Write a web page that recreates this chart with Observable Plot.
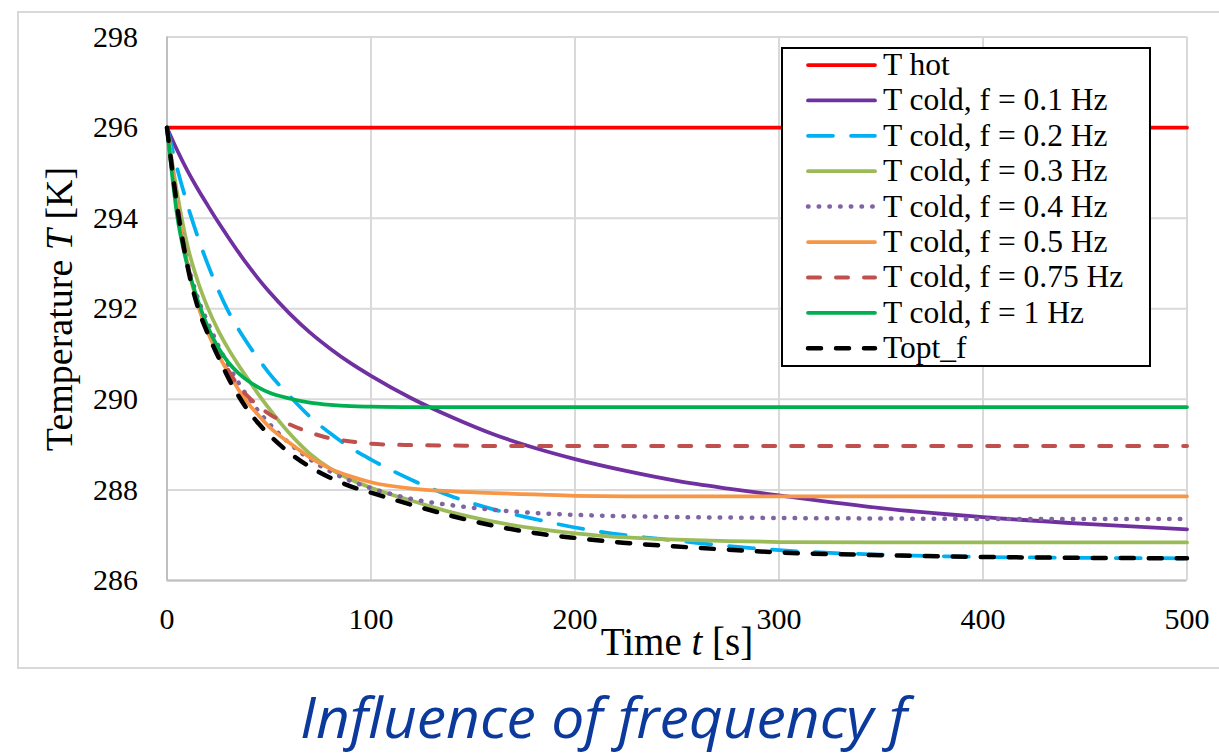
<!DOCTYPE html>
<html><head><meta charset="utf-8">
<script src="https://cdn.jsdelivr.net/npm/d3@7"></script>
<script src="https://cdn.jsdelivr.net/npm/@observablehq/plot@0.6"></script>
<style>
html,body{margin:0;padding:0;background:#fff;overflow:hidden}
#wrap{position:relative;width:1219px;height:755px;overflow:hidden;background:#fff}
#box{position:absolute;left:17px;top:11px;width:1300px;height:658px;border:2px solid #d9d9d9;box-sizing:border-box}
#chart{position:absolute;left:0;top:0}
#legend{position:absolute;left:781px;top:47px}
#caption{position:absolute;left:0;top:660px}
</style></head><body>
<div id="wrap"><div id="box"></div><div id="chart"></div><svg id="legend" width="372" height="322"></svg><svg id="caption" width="1219" height="95"></svg></div>
<script>
// ---- data ----
const times = [0,5,10,15,20,25,30,35,40,45,50,60,70,80,90,100,120,140,160,180,200,225,250,275,300,350,400,450,500];
const tHot    = [296,296,296,296,296,296,296,296,296,296,296,296,296,296,296,296,296,296,296,296,296,296,296,296,296,296,296,296,296];
const tCold01 = [296,295.5,295.05,294.65,294.28,293.92,293.58,293.25,292.94,292.65,292.38,291.9,291.48,291.12,290.8,290.52,290.02,289.6,289.23,288.93,288.68,288.42,288.2,288.03,287.88,287.6,287.4,287.25,287.13];
const tCold02 = [296,295.1,294.3,293.6,292.98,292.43,291.95,291.55,291.2,290.88,290.58,290.08,289.62,289.25,288.93,288.67,288.22,287.85,287.57,287.36,287.17,287.0,286.88,286.76,286.67,286.57,286.52,286.5,286.49];
const tCold03 = [296,294.55,293.4,292.62,292.02,291.53,291.12,290.76,290.43,290.1,289.8,289.25,288.8,288.47,288.23,288.05,287.76,287.5,287.3,287.15,287.04,286.95,286.9,286.87,286.85,286.84,286.84,286.84,286.84];
const tCold04 = [296,294.3,293.05,292.25,291.7,291.2,290.76,290.37,290.03,289.73,289.47,289.03,288.68,288.41,288.2,288.04,287.8,287.66,287.56,287.49,287.45,287.42,287.4,287.39,287.38,287.37,287.36,287.36,287.36];
const tCold05 = [296,294.3,293.0,292.1,291.48,291.0,290.6,290.22,289.9,289.64,289.4,289.04,288.72,288.47,288.3,288.17,288.03,287.97,287.93,287.9,287.87,287.86,287.86,287.86,287.86,287.86,287.86,287.86,287.86];
const tCold075= [296,294.3,293.0,292.15,291.5,291.05,290.65,290.3,290.05,289.85,289.68,289.45,289.27,289.14,289.07,289.02,288.99,288.98,288.97,288.97,288.97,288.97,288.97,288.97,288.97,288.97,288.97,288.97,288.97];
const tCold1  = [296,294.05,292.95,292.2,291.6,291.15,290.82,290.58,290.4,290.26,290.15,290.02,289.93,289.88,289.85,289.84,289.83,289.83,289.83,289.83,289.83,289.83,289.83,289.83,289.83,289.83,289.83,289.83,289.83];
const tOptF   = [296,294.25,292.95,292.05,291.45,290.95,290.48,290.08,289.74,289.46,289.22,288.82,288.51,288.27,288.08,287.94,287.67,287.42,287.21,287.05,286.94,286.83,286.75,286.68,286.62,286.56,286.52,286.5,286.49];
const seriesNames = ["T hot","T cold, f = 0.1 Hz","T cold, f = 0.2 Hz","T cold, f = 0.3 Hz","T cold, f = 0.4 Hz","T cold, f = 0.5 Hz","T cold, f = 0.75 Hz","T cold, f = 1 Hz","Topt_f"];
const xTicks = [0,100,200,300,400,500];
const yTicks = [286,288,290,292,294,296,298];
const xTitle = ["Time ", "t", " [s]"];
const yTitle = ["Temperature ", "T", " [K]"];
const captionText = ["Influence of frequency ", "f"];

// ---- styles ----
const seriesValues = [tHot,tCold01,tCold02,tCold03,tCold04,tCold05,tCold075,tCold1,tOptF];
const seriesStyles = [
  {stroke:"#FF0000", strokeWidth:3.75},
  {stroke:"#7030A0", strokeWidth:3.75},
  {stroke:"#00B0F0", strokeWidth:3.75, strokeDasharray:"25,18"},
  {stroke:"#9BBB59", strokeWidth:3.75},
  {stroke:"#8064A2", strokeWidth:4.5, strokeDasharray:"0.5,10.2"},
  {stroke:"#F79646", strokeWidth:3.75},
  {stroke:"#C0504D", strokeWidth:4, strokeDasharray:"12,16"},
  {stroke:"#00B050", strokeWidth:3.75},
  {stroke:"#000000", strokeWidth:4.5, strokeDasharray:"13,15"}
];
const serif = "'Liberation Serif','Times New Roman',serif";

const lineMarks = seriesValues.map((vals, k) =>
  Plot.line(times.map((t, i) => ({t, T: vals[i]})), {
    x: "t", y: "T", curve: "monotone-x", strokeLinecap: "round", strokeLinejoin: "round", ...seriesStyles[k]
  })
);

const chart = Plot.plot({
  width: 1219, height: 680,
  marginLeft: 166.5, marginRight: 32.5, marginTop: 36.6, marginBottom: 100,
  style: {fontFamily: serif, fontSize: "30px", background: "transparent", overflow: "visible", color: "#000"},
  x: {domain: [0, 500]},
  y: {domain: [286, 298]},
  marks: [
    Plot.gridX(xTicks, {stroke: "#d9d9d9", strokeOpacity: 1, strokeWidth: 2}),
    Plot.gridY(yTicks, {stroke: "#d9d9d9", strokeOpacity: 1, strokeWidth: 2}),
    Plot.ruleX([0], {stroke: "#bfbfbf", strokeWidth: 2}),
    Plot.ruleY([286], {stroke: "#bfbfbf", strokeWidth: 2}),
    Plot.axisX(xTicks, {tickSize: 0, tickPadding: 27, fontSize: 30, label: null, fill: "#000"}),
    Plot.axisY(yTicks, {tickSize: 0, tickPadding: 29, fontSize: 30, label: null, fill: "#000"}),
    ...lineMarks
  ]
});
document.getElementById("chart").appendChild(chart);

const svg = d3.select(chart);
function richText(sel, parts) {
  parts.forEach((p, i) => sel.append("tspan").attr("font-style", i === 1 ? "italic" : null).text(p));
}
const xt = svg.append("text").attr("x", 677).attr("y", 655).attr("text-anchor", "middle")
  .attr("font-family", serif).attr("font-size", 39).attr("fill", "#000");
richText(xt, xTitle);
const yt = svg.append("text").attr("transform", "translate(72,309) rotate(-90)")
  .attr("text-anchor", "middle").attr("font-family", serif).attr("font-size", 38).attr("fill", "#000");
richText(yt, yTitle);

// ---- legend ----
const lg = d3.select("#legend");
lg.append("rect").attr("x", 1).attr("y", 1).attr("width", 368).attr("height", 318)
  .attr("fill", "#fff").attr("stroke", "#000").attr("stroke-width", 2);
seriesNames.forEach((name, i) => {
  const cy = 18 + 35.4 * i;
  const st = seriesStyles[i];
  lg.append("line").attr("x1", 27).attr("x2", 94).attr("y1", cy).attr("y2", cy)
    .attr("stroke", st.stroke).attr("stroke-width", st.strokeWidth)
    .attr("stroke-dasharray", st.strokeDasharray || null).attr("stroke-linecap", "round");
  lg.append("text").attr("x", 102).attr("y", cy + 10).attr("font-family", serif)
    .attr("font-size", 31.5).attr("fill", "#000").text(name);
});

// ---- caption ----
const cap = d3.select("#caption").append("text").attr("x", 300).attr("y", 78)
  .attr("font-family", "'Open Sans','Noto Sans',sans-serif").attr("font-style", "italic")
  .attr("font-size", 56).attr("fill", "#0B3A9C")
  .attr("textLength", 607).attr("lengthAdjust", "spacingAndGlyphs");
captionText.forEach(p => cap.append("tspan").text(p));
</script>
</body></html>
